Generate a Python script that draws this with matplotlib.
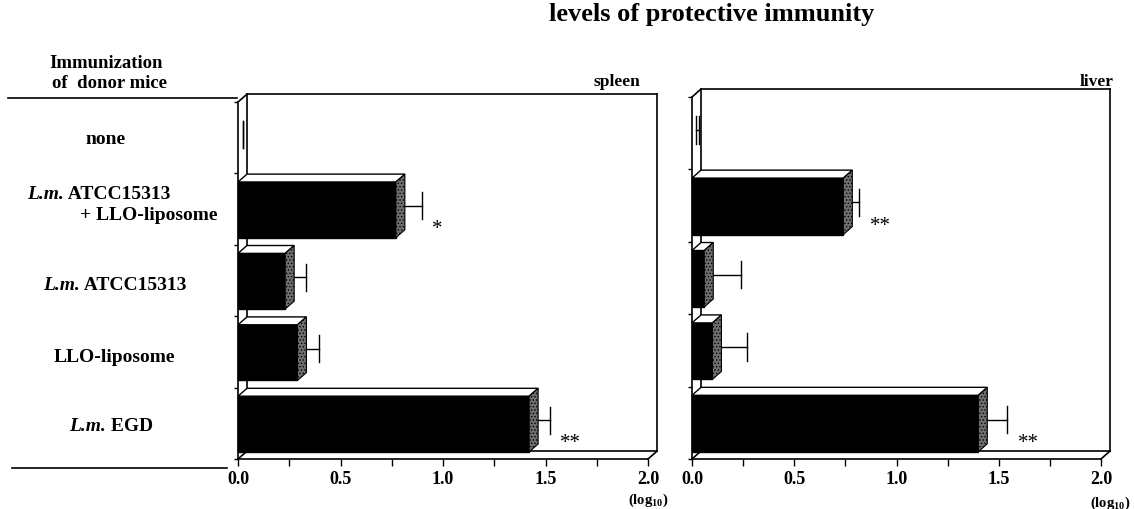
import numpy as np
import matplotlib.pyplot as plt
from matplotlib.patches import Polygon
from matplotlib.lines import Line2D

# groups, top to bottom
groups = ["none", "L.m. ATCC15313\n+ LLO-liposome", "L.m. ATCC15313", "LLO-liposome", "L.m. EGD"]
spleen_vals = [0.0, 0.77, 0.23, 0.29, 1.42]
spleen_err = [0.0, 0.105, 0.08, 0.085, 0.08]
spleen_sig = ["", "*", "", "", "**"]
liver_vals = [0.0, 0.74, 0.06, 0.10, 1.40]
liver_err = [0.01, 0.056, 0.158, 0.145, 0.12]
liver_sig = ["", "**", "", "", "**"]
xticks = [0.0, 0.5, 1.0, 1.5, 2.0]

plt.rcParams['font.family'] = 'Liberation Serif'
plt.rcParams['mathtext.fontset'] = 'custom'
plt.rcParams['mathtext.rm'] = 'Liberation Serif:bold'
plt.rcParams['mathtext.it'] = 'Liberation Serif:italic:bold'
plt.rcParams['mathtext.bf'] = 'Liberation Serif:bold'
plt.rcParams['hatch.linewidth'] = 0.6

W, H = 1134, 510
fig = plt.figure(figsize=(W / 100, H / 100), dpi=100)
renderer = fig.canvas.get_renderer()


def fx(px):
    return px / W


def fy(py):
    return 1 - py / H


DX, DY = 0.044, 0.11   # depth of the fake 3d box
LO, HI = 0.10, 0.88    # bar front face inside a band


def panel(left, right, top, vals, errs, sig, name, name_x):
    ax = fig.add_axes([fx(left), fy(460), fx(right - left), (460 - top) / H])
    n = len(vals)
    ax.set_xlim(0, 2)
    ax.set_ylim(0, n)
    ax.spines['top'].set_visible(False)
    ax.spines['right'].set_visible(False)
    for s in ['left', 'bottom']:
        ax.spines[s].set_linewidth(1.2)
    ax.set_xticks(xticks)
    ax.set_xticklabels(["%.1f" % t for t in xticks], fontsize=13, fontweight='bold')
    ax.set_xticks(np.arange(0, 2.01, 0.25), minor=True)
    ax.tick_params(axis='x', which='both', direction='out', length=5, width=1, pad=3)
    ax.set_yticks(range(n + 1))
    ax.set_yticklabels([])
    ax.tick_params(axis='y', direction='out', length=3, width=1)

    kw = dict(color='k', lw=1.2, clip_on=False, zorder=1)
    ax.plot([0, DX], [0, DY], **kw)
    ax.plot([0, DX], [n, n + DY], **kw)
    ax.plot([2, 2 + DX], [0, DY], **kw)
    ax.plot([DX, DX], [DY, n + DY], **kw)
    ax.plot([DX, 2 + DX], [n + DY, n + DY], **kw)
    ax.plot([2 + DX, 2 + DX], [DY, n + DY], **kw)
    ax.plot([DX, 2 + DX], [DY, DY], **kw)

    for k in range(n):
        i = n - 1 - k
        v, e = vals[k], errs[k]
        lo, hi = i + LO, i + HI
        ym = i + (LO + HI) / 2 + DY / 2
        xe = v + DX / 2 + e
        ax.plot([v + DX / 2, xe], [ym, ym], color='k', lw=1.0, zorder=2, clip_on=False)
        ax.plot([xe, xe], [ym - 0.19, ym + 0.19], color='k', lw=1.0, zorder=2, clip_on=False)
        if v > 0:
            front = Polygon([(0, lo), (v, lo), (v, hi), (0, hi)], closed=True,
                            facecolor='k', edgecolor='k', lw=1, zorder=3, clip_on=False)
            topf = Polygon([(0, hi), (v, hi), (v + DX, hi + DY), (DX, hi + DY)], closed=True,
                           facecolor='white', edgecolor='k', lw=1, zorder=3, clip_on=False)
            side = Polygon([(v, lo), (v + DX, lo + DY), (v + DX, hi + DY), (v, hi)], closed=True,
                           facecolor='#6e6e6e', edgecolor='k', hatch='.....', lw=0.8,
                           zorder=3, clip_on=False)
            for p in (front, topf, side):
                ax.add_patch(p)
        else:
            ax.plot([DX / 2, DX / 2], [ym - 0.19, ym + 0.19], color='k', lw=1.0, zorder=2)
        if sig[k]:
            ax.text(xe + 0.05, i + 0.23, sig[k], fontsize=15, ha='left', va='center')

    fig.text(fx(name_x), fy(82), name, fontsize=12.5, fontweight='bold', ha='center', va='center')
    return ax


def label(s, x, y, ha):
    # "L.m." in bold italic, rest bold upright
    if s.startswith("L.m."):
        parts = [("L.m.", 'italic'), (s[4:], 'normal')]
    else:
        parts = [(s, 'normal')]
    texts = [fig.text(0, fy(y), p, fontsize=14, fontweight='bold', style=st,
                      ha='left', va='center') for p, st in parts]
    widths = [t.get_window_extent(renderer).width for t in texts]
    total = sum(widths)
    x0 = {'left': x, 'center': x - total / 2, 'right': x - total}[ha]
    for t, w in zip(texts, widths):
        t.set_x(fx(x0))
        x0 += w


panel(238, 648, 103, spleen_vals, spleen_err, spleen_sig, "spleen", 617)
panel(692, 1101, 98, liver_vals, liver_err, liver_sig, "liver", 1097)

fig.text(fx(648), fy(500), r'(log$_{10}$)', fontsize=10.5, fontweight='bold', ha='center', va='center')
fig.text(fx(1110), fy(503), r'(log$_{10}$)', fontsize=10.5, fontweight='bold', ha='center', va='center')

fig.text(fx(712), fy(15), "levels of protective immunity", fontsize=19, fontweight='bold',
         ha='center', va='center')

fig.text(fx(106), fy(64), "Immunization", fontsize=13.5, fontweight='bold', ha='center', va='center')
fig.text(fx(110), fy(84), "of  donor mice", fontsize=13.5, fontweight='bold', ha='center', va='center')
fig.add_artist(Line2D([fx(8), fx(237)], [fy(99), fy(99)], color='k', lw=1.2))
fig.add_artist(Line2D([fx(12), fx(227)], [fy(469), fy(469)], color='k', lw=1.2))

label(groups[0], 106, 140, 'center')
line1, line2 = groups[1].split("\n")
label(line1, 27, 195, 'left')
label(line2, 218, 216, 'right')
label(groups[2], 115, 285, 'center')
label(groups[3], 114, 358, 'center')
label(groups[4], 111, 427, 'center')

fig.savefig("out.png", dpi=100)
